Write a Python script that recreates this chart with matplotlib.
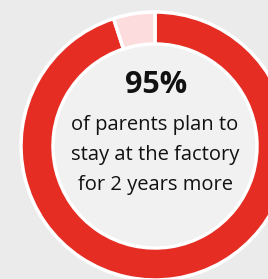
import matplotlib.pyplot as plt

# podíly výseče
labels = ["plan to stay", "other"]
shares = [95, 5]
colors = ["#E52D24", "#FCDCDC"]

headline = "95%"
caption = ["of parents plan to", "stay at the factory", "for 2 years more"]

# rozměry obrázku 268x279 pixelů
fig = plt.figure(figsize=(2.68, 2.79), dpi=100)
fig.patch.set_facecolor("#EBEBEB")
ax = fig.add_axes([0, 0, 1, 1])
ax.set_facecolor("#EBEBEB")

cx, cy = 155, 279 - 146
r_out, r_in = 134, 102

# vnitřní kruh
ax.add_patch(plt.Circle((cx, cy), r_in - 2, color="#F1F1F1", zorder=0))

ax.pie(shares, colors=colors, startangle=90, counterclock=False,
       center=(cx, cy), radius=r_out, labels=None,
       wedgeprops=dict(width=r_out - r_in, edgecolor="white", linewidth=2.5))

ax.set_xlim(0, 268)
ax.set_ylim(0, 279)
ax.set_aspect("equal")
ax.axis("off")

ax.text(cx + 1, 279 - 85, headline, ha="center", va="center",
        fontsize=22, fontweight="bold", family="Open Sans", color="#111111")
for i, line in enumerate(caption):
    ax.text(cx, 279 - (125 + i * 30), line, ha="center", va="center",
            fontsize=14.5, family="Open Sans", color="#111111")

plt.savefig("out.png", dpi=100, facecolor=fig.get_facecolor())
